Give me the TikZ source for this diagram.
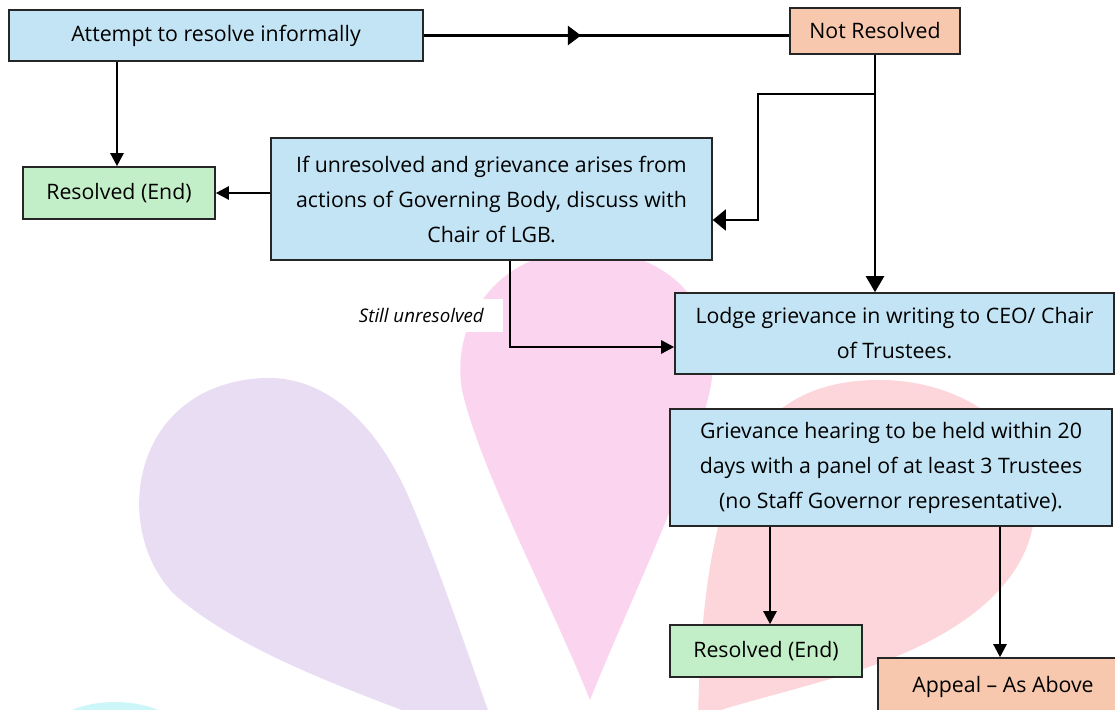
\documentclass[tikz,border=0pt]{standalone}
\usepackage{fontspec}
\setmainfont{Open Sans}
\usetikzlibrary{arrows.meta,decorations.markings,calc}
\definecolor{boxblue}{HTML}{C2E4F4}
\definecolor{boxgreen}{HTML}{C3EFC8}
\definecolor{boxsalmon}{HTML}{F7C8AE}
\definecolor{wmpurple}{HTML}{E9DDF4}
\definecolor{wmpink}{HTML}{FBD5EF}
\definecolor{wmred}{HTML}{FCD6DA}
\definecolor{wmcyan}{HTML}{CDF6F8}
\begin{document}
\begin{tikzpicture}[x=1pt,y=-1pt,
  box/.style={draw=black!85, line width=1.6pt, inner sep=0pt, align=center,
    font=\fontsize{21.3}{35}\selectfont},
  bluebox/.style={box, fill=boxblue},
  greenbox/.style={box, fill=boxgreen},
  salmonbox/.style={box, fill=boxsalmon},
  conn/.style={line width=2.4pt, draw=black},
  arr/.style={conn, -{Triangle[length=13pt,width=13pt]}},
  bigarr/.style={conn, -{Triangle[length=16pt,width=18pt]}},
  thinarr/.style={line width=1.9pt, draw=black, -{Triangle[length=13pt,width=21pt]}},
  midarr/.style={line width=2.4pt, draw=black, decoration={markings, mark=at position 0.43 with {\arrow{Triangle[length=13pt,width=19pt]}}}, postaction={decorate}},
  lbl/.style={fill=white, inner xsep=19pt, inner ysep=9pt, font=\fontsize{18.7}{20}\selectfont\itshape},
]
\useasboundingbox (0,0) rectangle (1115,709);
% watermark shapes
\fill[wmpurple] (263,378) .. controls (330,375) and (380,430) .. (410,500)
  .. controls (440,570) and (470,660) .. (495,730)
  -- (480,740) .. controls (380,700) and (250,660) .. (175,595)
  .. controls (110,530) and (130,385) .. (263,378) -- cycle;
\fill[wmpink] (585,250) .. controls (680,250) and (725,320) .. (710,390)
  .. controls (690,480) and (630,600) .. (590,700)
  .. controls (550,600) and (480,470) .. (462,390)
  .. controls (450,320) and (500,250) .. (585,250) -- cycle;
\fill[wmred] (875,380) .. controls (960,378) and (1040,430) .. (1035,510)
  .. controls (1030,590) and (950,640) .. (860,670)
  .. controls (790,692) and (730,705) .. (698,718)
  .. controls (700,640) and (705,540) .. (740,460)
  .. controls (770,400) and (820,381) .. (875,380) -- cycle;
\fill[wmcyan] (115,742) ellipse [x radius=72, y radius=40];
% nodes
\node[bluebox, minimum width=414pt, minimum height=51pt] (A) at (216,35.5) {Attempt to resolve informally};
\node[salmonbox, minimum width=170pt, minimum height=46pt] (NR) at (875,31) {Not Resolved};
\node[greenbox, minimum width=192pt, minimum height=52pt] (R1) at (119,193) {Resolved (End)};
\node[bluebox, minimum width=441pt, minimum height=122pt] (B) at (491.5,199) {If unresolved and grievance arises from\\actions of Governing Body, discuss with\\Chair of LGB.};
\node[bluebox, minimum width=439pt, minimum height=81pt] (L) at (894.5,333.5) {Lodge grievance in writing to CEO/ Chair\\of Trustees.};
\node[bluebox, minimum width=442pt, minimum height=117pt] (H) at (891,467.5) {Grievance hearing to be held within 20\\days with a panel of at least 3 Trustees\\(no Staff Governor representative).};
\node[greenbox, minimum width=192pt, minimum height=52pt] (R2) at (766,651) {Resolved (End)};
\node[salmonbox, minimum width=250pt, minimum height=62pt] (AP) at (1003,689) {\raisebox{10pt}{Appeal – As Above}};
\node[lbl, anchor=east] (SU) at (503,315.5) {Still unresolved};
% connectors
\draw[midarr] (A.east) -- (A.east -| NR.west);
\draw[arr] (A.south -| 117,0) -- (117,0 |- R1.north);
\draw[arr] (B.west |- R1.east) -- (R1.east);
\draw[bigarr] (NR.south) -- (NR.south |- L.north);
\coordinate (br) at ($(NR.south)+(0,39)$);
\draw[thinarr] (br) -- ++(-117,0) |- ($(B.east)+(0,21)$);
\draw[arr] (B.south -| 510,0) |- ($(L.west)+(0,13.5)$);
\draw[conn] (L.south -| NR.south) -- (L.south -| NR.south |- H.north);
\draw[arr] (H.south -| 770,0) -- (770,0 |- R2.north);
\draw[arr] (H.south -| 1000,0) -- (1000,0 |- AP.north);
\end{tikzpicture}
\end{document}
